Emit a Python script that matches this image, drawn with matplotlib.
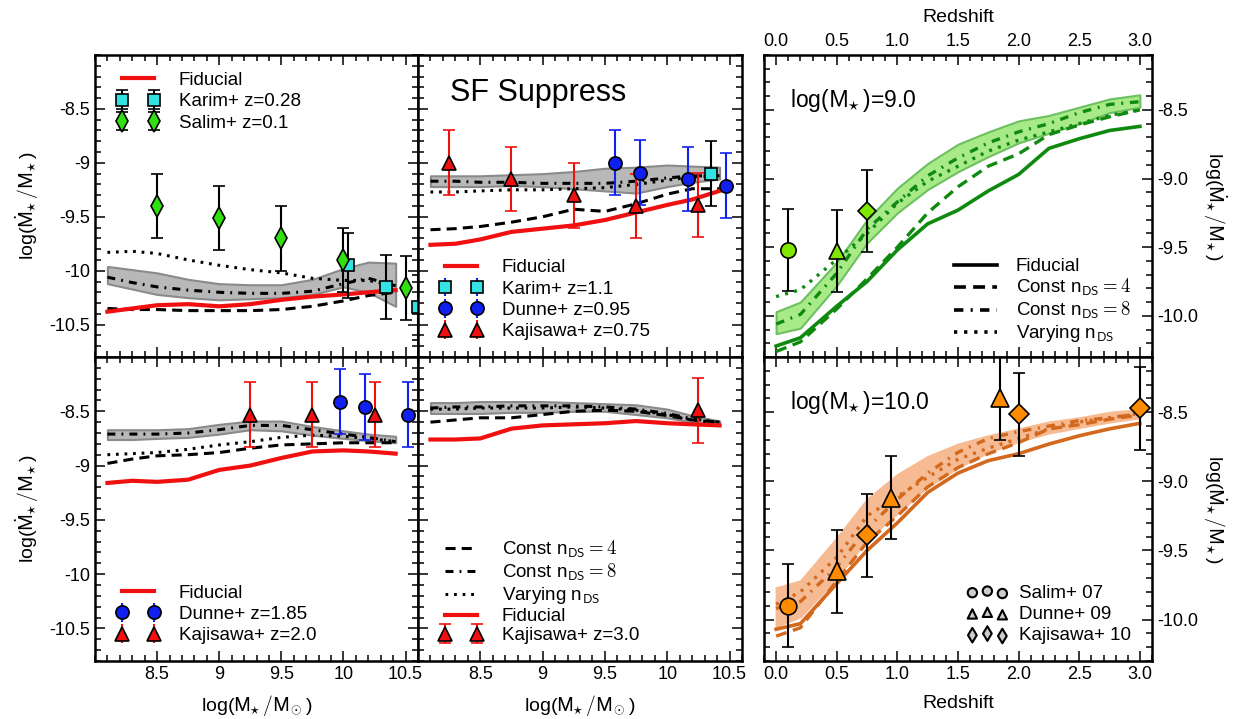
import numpy as np
import matplotlib.pyplot as plt
from matplotlib.ticker import MultipleLocator, FormatStrFormatter

plt.rcParams['font.family'] = ['Liberation Sans', 'DejaVu Sans']
plt.rcParams['mathtext.fontset'] = 'cm'
plt.rcParams['axes.unicode_minus'] = False

# ---------------- data: stellar mass panels ----------------
mass_grid = [8.1, 8.3, 8.5, 8.75, 9.0, 9.25, 9.5, 9.75, 10.0, 10.2, 10.42]

# z = 0.1 (top left)
tl_fid = [-10.38, -10.35, -10.32, -10.31, -10.33, -10.31, -10.27, -10.24, -10.22, -10.2, -10.18]
tl_c4 = [-10.35, -10.36, -10.36, -10.37, -10.37, -10.37, -10.36, -10.33, -10.28, -10.23, -10.2]
tl_c8 = [-10.06, -10.11, -10.15, -10.18, -10.2, -10.21, -10.21, -10.19, -10.12, -10.07, -10.14]
tl_var = [-9.83, -9.82, -9.84, -9.9, -9.95, -9.99, -10.02, -10.07, -10.09, -10.09, -10.14]
tl_hi = [-9.96, -9.99, -10.02, -10.08, -10.12, -10.13, -10.13, -10.08, -9.98, -9.92, -9.93]
tl_lo = [-10.12, -10.17, -10.22, -10.25, -10.27, -10.26, -10.25, -10.22, -10.15, -10.2, -10.33]
tl_karim_x = [10.04, 10.345, 10.6]
tl_karim_y = [-9.95, -10.15, -10.34]
tl_salim_x = [8.5, 9.0, 9.5, 10.0, 10.5]
tl_salim_y = [-9.4, -9.51, -9.7, -9.9, -10.16]

# z ~ 1 (top middle)
tm_fid = [-9.76, -9.75, -9.71, -9.64, -9.61, -9.58, -9.53, -9.46, -9.39, -9.34, -9.26]
tm_c4 = [-9.62, -9.61, -9.59, -9.55, -9.5, -9.43, -9.45, -9.38, -9.29, -9.24, -9.24]
tm_c8 = [-9.17, -9.17, -9.18, -9.18, -9.19, -9.19, -9.19, -9.17, -9.14, -9.12, -9.12]
tm_var = [-9.27, -9.27, -9.26, -9.25, -9.25, -9.24, -9.23, -9.2, -9.16, -9.13, -9.12]
tm_hi = [-9.12, -9.12, -9.12, -9.11, -9.1, -9.08, -9.05, -9.04, -9.02, -9.03, -9.04]
tm_lo = [-9.22, -9.22, -9.22, -9.21, -9.22, -9.24, -9.26, -9.28, -9.22, -9.18, -9.15]
tm_karim_x = [10.35]
tm_karim_y = [-9.1]
tm_dunne_x = [9.58, 9.78, 10.17, 10.47]
tm_dunne_y = [-9.0, -9.09, -9.15, -9.21]
tm_kaji_x = [8.25, 8.75, 9.25, 9.75, 10.25]
tm_kaji_y = [-9.0, -9.15, -9.3, -9.4, -9.39]

# z ~ 2 (bottom left)
bl_fid = [-9.16, -9.14, -9.15, -9.13, -9.04, -9.0, -8.93, -8.87, -8.86, -8.87, -8.89]
bl_c4 = [-8.98, -8.94, -8.91, -8.9, -8.88, -8.84, -8.81, -8.8, -8.79, -8.79, -8.79]
bl_c8 = [-8.71, -8.71, -8.71, -8.7, -8.67, -8.63, -8.63, -8.67, -8.71, -8.74, -8.78]
bl_var = [-8.9, -8.89, -8.88, -8.85, -8.81, -8.78, -8.74, -8.72, -8.73, -8.75, -8.78]
bl_hi = [-8.67, -8.67, -8.67, -8.66, -8.62, -8.59, -8.59, -8.64, -8.68, -8.71, -8.73]
bl_lo = [-8.76, -8.76, -8.75, -8.74, -8.71, -8.67, -8.68, -8.72, -8.75, -8.77, -8.79]
bl_dunne_x = [9.97, 10.17, 10.52]
bl_dunne_y = [-8.41, -8.46, -8.53]
bl_kaji_x = [9.25, 9.75, 10.25]
bl_kaji_y = [-8.53, -8.53, -8.53]

# z = 3 (bottom middle)
bm_fid = [-8.76, -8.76, -8.75, -8.66, -8.63, -8.62, -8.61, -8.59, -8.61, -8.62, -8.63]
bm_c4 = [-8.6, -8.58, -8.56, -8.56, -8.53, -8.5, -8.49, -8.5, -8.54, -8.58, -8.6]
bm_c8 = [-8.47, -8.46, -8.46, -8.45, -8.45, -8.45, -8.46, -8.48, -8.52, -8.57, -8.6]
bm_var = [-8.48, -8.48, -8.47, -8.47, -8.47, -8.46, -8.47, -8.49, -8.53, -8.58, -8.61]
bm_hi = [-8.42, -8.42, -8.41, -8.41, -8.41, -8.42, -8.43, -8.44, -8.48, -8.54, -8.59]
bm_lo = [-8.52, -8.52, -8.52, -8.51, -8.51, -8.5, -8.5, -8.53, -8.56, -8.6, -8.62]
bm_kaji_x = [10.25]
bm_kaji_y = [-8.49]

obs_err = 0.3

# ---------------- data: redshift panels ----------------
z_grid = [0.0, 0.2, 0.5, 0.75, 1.0, 1.25, 1.5, 1.75, 2.0, 2.25, 2.5, 2.75, 3.0]

# log M = 9.0
r9_fid = [-10.22, -10.16, -9.93, -9.75, -9.52, -9.33, -9.23, -9.09, -8.97, -8.78, -8.71, -8.65, -8.62]
r9_c4 = [-10.26, -10.19, -9.95, -9.73, -9.5, -9.25, -9.06, -8.91, -8.82, -8.68, -8.61, -8.55, -8.5]
r9_c8 = [-10.06, -9.99, -9.69, -9.37, -9.17, -8.98, -8.85, -8.74, -8.66, -8.6, -8.52, -8.46, -8.44]
r9_var = [-9.86, -9.81, -9.59, -9.4, -9.18, -9.02, -8.91, -8.8, -8.72, -8.66, -8.6, -8.54, -8.5]
r9_hi = [-9.97, -9.9, -9.61, -9.3, -9.07, -8.89, -8.75, -8.66, -8.58, -8.54, -8.48, -8.42, -8.39]
r9_lo = [-10.13, -10.09, -9.78, -9.47, -9.25, -9.08, -8.95, -8.84, -8.74, -8.67, -8.6, -8.52, -8.48]
r9_salim = ([0.1], [-9.52])
r9_dunne = ([0.5], [-9.53])
r9_kaji = ([0.75], [-9.235])

# log M = 10.0
r10_fid = [-10.07, -10.03, -9.74, -9.5, -9.3, -9.08, -8.94, -8.85, -8.8, -8.73, -8.67, -8.62, -8.58]
r10_c4 = [-10.12, -10.06, -9.72, -9.44, -9.25, -9.04, -8.9, -8.8, -8.72, -8.62, -8.59, -8.55, -8.52]
r10_c8 = [-9.92, -9.87, -9.62, -9.34, -9.13, -8.94, -8.79, -8.69, -8.64, -8.6, -8.56, -8.54, -8.51]
r10_var = [-9.89, -9.8, -9.55, -9.25, -9.11, -8.97, -8.84, -8.76, -8.69, -8.62, -8.57, -8.54, -8.51]
r10_hi = [-9.77, -9.72, -9.41, -9.13, -8.95, -8.82, -8.73, -8.67, -8.62, -8.57, -8.54, -8.5, -8.48]
r10_lo = [-10.05, -9.98, -9.7, -9.42, -9.23, -9.04, -8.9, -8.79, -8.71, -8.65, -8.61, -8.57, -8.54]
r10_salim = ([0.1], [-9.9])
r10_dunne = ([0.5, 0.95, 1.85], [-9.65, -9.12, -8.4])
r10_kaji = ([0.75, 2.0, 3.0], [-9.39, -8.515, -8.47])

# ---------------- styles ----------------
LS_C4 = (0, (3.3, 2.0))
LS_C8 = (0, (2.6, 2.0, 0.6, 2.0))
LS_VAR = (0, (0.9, 1.9))
MSTAR = r'\mathsf{M}_{\!\!\star}'
SSFR_LABEL = r'log($\dot{\mathsf{M}}_{\!\!\star}/' + MSTAR + '$)'
FS = 13.5     # legend text
TFS = 13      # tick labels
LFS = 14      # axis labels
LEG = dict(frameon=False, fontsize=FS, handlelength=2.3, handletextpad=1.0,
           labelspacing=0.22)
LEG_MATH = dict(LEG, labelspacing=0.1)

W, H = 1246, 719
fig = plt.figure(figsize=(W / 100, H / 100), dpi=100)


def box(x0, y0, x1, y1):
    return [x0 / W, 1 - y1 / H, (x1 - x0) / W, (y1 - y0) / H]


def style(ax):
    ax.tick_params(which='both', direction='in', top=True, right=True,
                   width=1.1, labelsize=TFS)
    ax.tick_params(which='major', length=7)
    ax.tick_params(which='minor', length=4)
    for s in ax.spines.values():
        s.set_linewidth(1.8)


def mass_axes(ax, xlab, ylab):
    style(ax)
    ax.set_xlim(8.0, 10.6)
    ax.set_ylim(-10.8, -8.0)
    ax.set_xticks([8.5, 9, 9.5, 10, 10.5])
    ax.set_yticks([-10.5, -10, -9.5, -9, -8.5])
    ax.xaxis.set_minor_locator(MultipleLocator(0.1))
    ax.yaxis.set_minor_locator(MultipleLocator(0.1))
    ax.xaxis.set_major_formatter(FormatStrFormatter('%g'))
    ax.yaxis.set_major_formatter(FormatStrFormatter('%g'))
    ax.tick_params(labelbottom=xlab, labelleft=ylab)
    if xlab:
        ax.set_xlabel(r'log($' + MSTAR + r'/\mathsf{M}_{\!\odot}$)',
                      fontsize=LFS, labelpad=7)
    if ylab:
        ax.set_ylabel(SSFR_LABEL, fontsize=LFS, labelpad=6)


def z_axes(ax, top):
    style(ax)
    ax.set_xlim(-0.1, 3.1)
    ax.set_ylim(-10.3, -8.1)
    ax.set_xticks(np.arange(0, 3.01, 0.5))
    ax.set_yticks([-10, -9.5, -9, -8.5])
    ax.xaxis.set_minor_locator(MultipleLocator(0.1))
    ax.yaxis.set_minor_locator(MultipleLocator(0.1))
    ax.xaxis.set_major_formatter(FormatStrFormatter('%.1f'))
    ax.yaxis.set_major_formatter(FormatStrFormatter('%.1f'))
    ax.tick_params(labelleft=False, labelright=True,
                   labeltop=top, labelbottom=not top)
    ax.yaxis.set_label_position('right')
    ax.set_ylabel(SSFR_LABEL, fontsize=LFS, rotation=270, labelpad=22)
    if top:
        ax.xaxis.set_label_position('top')
    ax.set_xlabel('Redshift', fontsize=LFS, labelpad=8 if top else 9)


def models(ax, x, fid, c4, c8, var, lo, hi, line_col, fid_col, band_face,
           band_edge, lw=2.2, fid_lw=3.0):
    ax.fill_between(x, lo, hi, facecolor=band_face, edgecolor=band_edge,
                    lw=1.5, zorder=1)
    ax.plot(x, c8, color=line_col, ls=LS_C8, lw=lw, zorder=2)
    ax.plot(x, var, color=line_col, ls=LS_VAR, lw=lw, zorder=2)
    ax.plot(x, c4, color=line_col, ls=LS_C4, lw=lw, zorder=2)
    ax.plot(x, fid, color=fid_col, lw=fid_lw, zorder=3)


def obs(ax, x, y, marker, face, ecol, ms, label=None):
    ax.errorbar(x, y, yerr=obs_err, fmt=marker, mfc=face, mec='k', mew=1.2,
                ms=ms, ecolor=ecol, elinewidth=1.5, capsize=4, capthick=1.5,
                label=label, zorder=5)


def proxy(ax, marker, face, ecol, ms, label):
    ax.errorbar([], [], yerr=[], fmt=marker, mfc=face, mec='k', mew=1.2, ms=ms,
                ecolor=ecol, elinewidth=1.5, capsize=4, capthick=1.5,
                label=label)


CYAN, BLUE, RED, LIME = '#33e3e3', '#1020f0', '#f01010', '#30e010'
GREYF, GREYE = '#b8b8b8', '#8a8a8a'

# ---------------- top left ----------------
ax = fig.add_axes(box(95, 55, 418, 357))
mass_axes(ax, False, True)
models(ax, mass_grid, tl_fid, tl_c4, tl_c8, tl_var, tl_lo, tl_hi,
       'k', RED, GREYF, GREYE)
ax.plot([], [], color=RED, lw=3, label='Fiducial')
obs(ax, tl_karim_x, tl_karim_y, 's', CYAN, 'k', 8.5, 'Karim+ z=0.28')
obs(ax, tl_salim_x, tl_salim_y, 'd', LIME, 'k', 11, 'Salim+ z=0.1')
ax.legend(loc='upper left', bbox_to_anchor=(0.015, 1.0), numpoints=2, **LEG)

# ---------------- top middle ----------------
ax = fig.add_axes(box(418, 55, 742, 357))
mass_axes(ax, False, False)
models(ax, mass_grid, tm_fid, tm_c4, tm_c8, tm_var, tm_lo, tm_hi,
       'k', RED, GREYF, GREYE)
ax.plot([], [], color=RED, lw=3, label='Fiducial')
obs(ax, tm_kaji_x, tm_kaji_y, '^', RED, RED, 10)
obs(ax, tm_dunne_x, tm_dunne_y, 'o', BLUE, BLUE, 9.5)
obs(ax, tm_karim_x, tm_karim_y, 's', CYAN, 'k', 8.5)
proxy(ax, 's', CYAN, BLUE, 8.5, 'Karim+ z=1.1')
proxy(ax, 'o', BLUE, BLUE, 9.5, 'Dunne+ z=0.95')
proxy(ax, '^', RED, RED, 10, 'Kajisawa+ z=0.75')
ax.legend(loc='lower left', bbox_to_anchor=(0.015, 0.0), numpoints=2, **LEG)
ax.text(0.1, 0.875, 'SF Suppress', transform=ax.transAxes, fontsize=22,
        va='center', ha='left')

# ---------------- bottom left ----------------
ax = fig.add_axes(box(95, 357, 418, 661))
mass_axes(ax, True, True)
models(ax, mass_grid, bl_fid, bl_c4, bl_c8, bl_var, bl_lo, bl_hi,
       'k', RED, GREYF, GREYE)
ax.plot([], [], color=RED, lw=3, label='Fiducial')
obs(ax, bl_kaji_x, bl_kaji_y, '^', RED, RED, 10)
obs(ax, bl_dunne_x, bl_dunne_y, 'o', BLUE, BLUE, 9.5)
proxy(ax, 'o', BLUE, BLUE, 9.5, 'Dunne+ z=1.85')
proxy(ax, '^', RED, RED, 10, 'Kajisawa+ z=2.0')
ax.legend(loc='lower left', bbox_to_anchor=(0.015, 0.0), numpoints=2, **LEG)

# ---------------- bottom middle ----------------
ax = fig.add_axes(box(418, 357, 742, 661))
mass_axes(ax, True, False)
models(ax, mass_grid, bm_fid, bm_c4, bm_c8, bm_var, bm_lo, bm_hi,
       'k', RED, GREYF, GREYE)
ax.plot([], [], color='k', ls=LS_C4, lw=2.2, label=r'Const n$_\mathsf{DS} = 4$')
ax.plot([], [], color='k', ls=LS_C8, lw=2.2, label=r'Const n$_\mathsf{DS} = 8$')
ax.plot([], [], color='k', ls=LS_VAR, lw=2.2, label=r'Varying n$_\mathsf{DS}$')
ax.plot([], [], color=RED, lw=3, label='Fiducial')
obs(ax, bm_kaji_x, bm_kaji_y, '^', RED, RED, 10, 'Kajisawa+ z=3.0')
ax.legend(loc='lower left', bbox_to_anchor=(0.015, 0.0), numpoints=2, **LEG_MATH)

# ---------------- right panels ----------------
GREEN_L, GREEN_M = '#0f8a0f', '#80e800'
ORANGE_L, ORANGE_M = '#d2691e', '#ff8c00'

ax = fig.add_axes(box(764, 55, 1152, 357))
z_axes(ax, True)
models(ax, z_grid, r9_fid, r9_c4, r9_c8, r9_var, r9_lo, r9_hi,
       GREEN_L, GREEN_L, '#a8ea88', '#6cc060', lw=2.4, fid_lw=2.6)
obs(ax, *r9_salim, 'o', GREEN_M, 'k', 11)
obs(ax, *r9_dunne, '^', GREEN_M, 'k', 12)
obs(ax, *r9_kaji, 'D', GREEN_M, 'k', 9)
ax.text(0.067, 0.85, r'log($' + MSTAR + '$)=9.0', transform=ax.transAxes,
        fontsize=16.5, va='center')
ax.plot([], [], color='k', lw=2.6, label='Fiducial')
ax.plot([], [], color='k', ls=LS_C4, lw=2.6, label=r'Const n$_\mathsf{DS} = 4$')
ax.plot([], [], color='k', ls=LS_C8, lw=2.6, label=r'Const n$_\mathsf{DS} = 8$')
ax.plot([], [], color='k', ls=LS_VAR, lw=2.6, label=r'Varying n$_\mathsf{DS}$')
ax.legend(loc='lower right', bbox_to_anchor=(0.99, -0.014), **LEG_MATH)

ax = fig.add_axes(box(764, 357, 1152, 661))
z_axes(ax, False)
models(ax, z_grid, r10_fid, r10_c4, r10_c8, r10_var, r10_lo, r10_hi,
       ORANGE_L, ORANGE_L, '#f6bb92', '#f6bb92', lw=2.4, fid_lw=2.6)
obs(ax, *r10_salim, 'o', ORANGE_M, 'k', 12)
obs(ax, *r10_dunne, '^', ORANGE_M, 'k', 13)
obs(ax, *r10_kaji, 'D', ORANGE_M, 'k', 10)
ax.text(0.067, 0.85, r'log($' + MSTAR + '$)=10.0', transform=ax.transAxes,
        fontsize=16.5, va='center')
ax.scatter([], [], marker='o', s=45, c='#cccccc', edgecolors='k',
           linewidths=1.5, label='Salim+ 07')
ax.scatter([], [], marker='^', s=45, c='#cccccc', edgecolors='k',
           linewidths=1.5, label='Dunne+ 09')
ax.scatter([], [], marker='d', s=55, c='#cccccc', edgecolors='k',
           linewidths=1.5, label='Kajisawa+ 10')
ax.legend(loc='lower right', bbox_to_anchor=(0.99, 0.0), scatterpoints=3,
          frameon=False, fontsize=FS, handlelength=2.2, handletextpad=0.6,
          labelspacing=0.22)

fig.savefig('out.png', dpi=100)
